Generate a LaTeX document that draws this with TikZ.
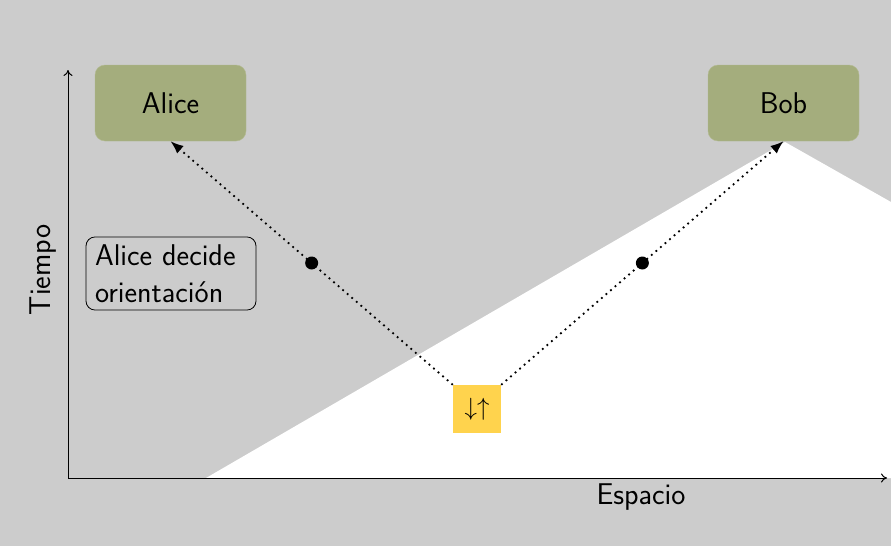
\documentclass[tikz,border=0pt]{standalone}
\usetikzlibrary{arrows.meta}
\definecolor{bggray}{HTML}{CCCCCC}
\definecolor{olive}{HTML}{A4AD7D}
\definecolor{srcyellow}{HTML}{FFD34D}
\begin{document}
\begin{tikzpicture}[x=1pt,y=-1pt,
  every node/.style={font=\sffamily\fontsize{30}{37}\selectfont},
  party/.style={fill=olive, draw=olive!85!white, rounded corners=10pt, minimum width=151pt, minimum height=76pt, inner sep=0pt},
  srcbox/.style={fill=srcyellow, minimum width=48pt, minimum height=48pt, inner sep=0pt, font=\fontsize{38}{40}\selectfont},
  notebox/.style={draw=black, line width=0.8pt, rounded corners=9pt, align=left, text width=152pt, inner xsep=9pt, inner ysep=7.5pt},
  axis/.style={line width=1pt, -{To[length=6pt,width=9pt]}},
  photon/.style={line width=1.8pt, dash pattern=on 1.8pt off 4.2pt, -{Latex[length=13pt,width=10pt]}},
  blob/.style={circle, fill=black, inner sep=0pt, minimum size=13pt}
]
\useasboundingbox (0,0) rectangle (891,546);
\fill[bggray] (0,0) rectangle (891,546);
\fill[white] (206,478) -- (785,142) -- (891,202) -- (891,478) -- cycle;
\coordinate (O) at (68,478);
\coordinate (ytop) at (68,70);
\coordinate (xend) at (887,478);
\draw[axis] (O) -- (ytop);
\draw[axis] (O) -- (xend);
\node[rotate=90] (tiempo) at (43,270) {Tiempo};
\node (espacio) at (641,497) {Espacio};
\node[party] (alice) at (170.5,103) {Alice};
\node[party] (bob) at (783.5,103) {Bob};
\node[srcbox] (src) at (477,409) {$\downarrow\uparrow$};
\node[notebox] (decide) at (171,273.5) {Alice decide\\orientación};
\draw[photon] (src.north west) -- node[blob, pos=0.5] (d1) {} (alice.south);
\draw[photon] (src.north east) -- node[blob, pos=0.5] (d2) {} (bob.south);
\end{tikzpicture}
\end{document}
